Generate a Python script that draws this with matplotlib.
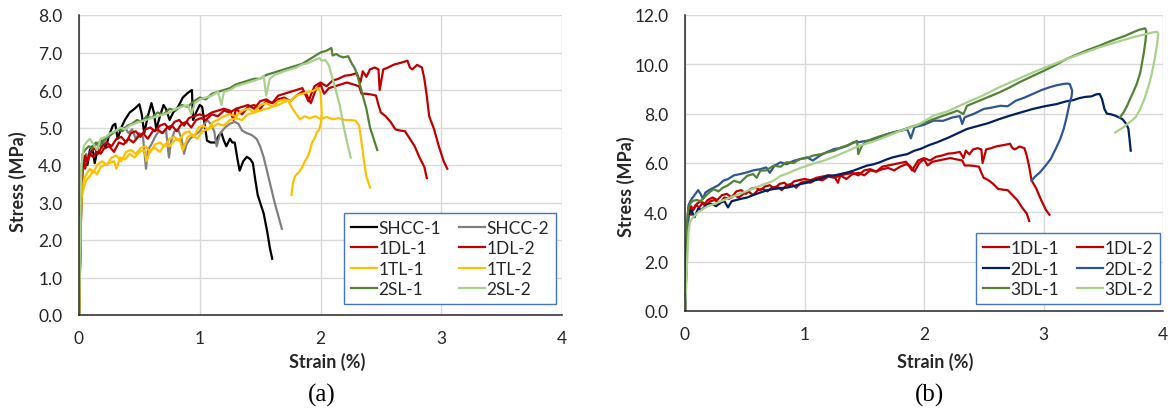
import matplotlib
matplotlib.use("Agg")
import matplotlib.pyplot as plt

# ---------------- Panel (a) data ----------------
shcc1_x = [0, 0.01, 0.02, 0.03, 0.05, 0.07, 0.09, 0.11, 0.13, 0.16, 0.19, 0.22, 0.25, 0.28, 0.30, 0.32, 0.35, 0.38,
           0.42, 0.46, 0.50, 0.52, 0.54, 0.57, 0.60, 0.62, 0.64, 0.67, 0.70, 0.72, 0.75, 0.78, 0.82, 0.86, 0.90,
           0.935, 0.945, 0.97, 1.0, 1.02, 1.04, 1.06, 1.09, 1.13, 1.16, 1.18, 1.20, 1.22, 1.25, 1.27, 1.29, 1.31,
           1.33, 1.36, 1.39, 1.42, 1.44, 1.46, 1.48, 1.50, 1.53, 1.56, 1.58, 1.60]
shcc1_y = [0, 1.5, 3.2, 3.9, 4.2, 4.0, 4.4, 4.5, 4.05, 4.5, 4.65, 4.45, 4.8, 5.05, 5.1, 4.7, 5.0, 5.2,
           5.4, 5.5, 5.62, 5.35, 4.85, 5.3, 5.65, 5.4, 4.95, 5.3, 5.6, 5.5, 5.2, 5.4, 5.55, 5.8, 5.92,
           6.0, 5.2, 5.4, 5.6, 5.55, 5.1, 4.65, 4.6, 4.6, 4.8, 4.85, 4.65, 4.5, 4.7, 4.6, 4.6, 4.2,
           3.85, 4.1, 4.22, 4.15, 4.05, 3.6, 3.2, 3.0, 2.7, 2.2, 1.8, 1.5]

shcc2_x = [0, 0.01, 0.02, 0.04, 0.06, 0.08, 0.10, 0.13, 0.16, 0.19, 0.22, 0.26, 0.30, 0.34, 0.38, 0.41, 0.44, 0.47,
           0.50, 0.53, 0.555, 0.57, 0.60, 0.63, 0.66, 0.69, 0.72, 0.745, 0.76, 0.79, 0.82, 0.85, 0.87, 0.89, 0.92,
           0.96, 1.0, 1.03, 1.06, 1.09, 1.12, 1.14, 1.17, 1.21, 1.25, 1.29, 1.32, 1.35, 1.39, 1.43, 1.47, 1.50,
           1.53, 1.56, 1.59, 1.62, 1.65, 1.68]
shcc2_y = [0, 1.8, 3.5, 4.1, 4.3, 4.15, 4.4, 4.5, 4.6, 4.45, 4.7, 4.8, 4.9, 4.95, 5.0, 4.85, 4.95, 4.7,
           4.85, 4.75, 3.9, 4.4, 4.55, 4.75, 4.9, 4.85, 4.95, 4.2, 4.6, 4.9, 4.95, 4.7, 4.3, 4.55, 4.7,
           4.8, 4.9, 5.05, 5.2, 5.1, 4.9, 4.5, 4.85, 5.0, 5.1, 5.15, 5.1, 4.92, 4.85, 4.8, 4.7, 4.5,
           4.2, 3.8, 3.4, 3.0, 2.65, 2.3]

dl1_x = [0, 0.01, 0.02, 0.03, 0.05, 0.07, 0.09, 0.12, 0.15, 0.18, 0.21, 0.25, 0.29, 0.33, 0.37, 0.41, 0.45, 0.49,
         0.53, 0.57, 0.61, 0.65, 0.69, 0.73, 0.77, 0.81, 0.85, 0.89, 0.93, 0.97, 1.01, 1.05, 1.10, 1.15, 1.20,
         1.25, 1.30, 1.35, 1.40, 1.45, 1.50, 1.55, 1.60, 1.65, 1.70, 1.75, 1.80, 1.85, 1.88, 1.92, 1.96, 2.0,
         2.03, 2.07, 2.12, 2.17, 2.22, 2.27, 2.32, 2.34, 2.38, 2.42, 2.46, 2.48, 2.50, 2.54, 2.58, 2.62, 2.66,
         2.70, 2.74, 2.78, 2.82, 2.86, 2.88]
dl1_y = [0, 1.5, 3.2, 4.2, 3.9, 4.15, 4.3, 4.2, 4.4, 4.3, 4.45, 4.5, 4.35, 4.6, 4.55, 4.7, 4.6, 4.75,
         4.85, 4.7, 4.9, 4.95, 4.85, 5.0, 5.05, 4.9, 5.1, 5.15, 5.0, 5.2, 5.25, 5.2, 5.35, 5.3, 5.45,
         5.4, 5.5, 5.35, 5.55, 5.6, 5.5, 5.7, 5.65, 5.75, 5.8, 5.7, 5.85, 5.95, 5.9, 5.65, 6.0, 6.15,
         5.9, 6.05, 6.1, 6.15, 6.2, 6.15, 6.1, 5.9, 5.9, 5.88, 5.85, 5.6, 5.4, 5.3, 5.15, 4.95, 4.92,
         4.9, 4.7, 4.5, 4.2, 3.95, 3.65]

dl2_x = [0, 0.01, 0.02, 0.03, 0.05, 0.07, 0.10, 0.13, 0.16, 0.19, 0.23, 0.27, 0.31, 0.35, 0.39, 0.43, 0.47, 0.51,
         0.55, 0.59, 0.63, 0.67, 0.71, 0.75, 0.79, 0.83, 0.87, 0.91, 0.95, 1.0, 1.05, 1.10, 1.15, 1.20, 1.25,
         1.28, 1.30, 1.35, 1.40, 1.45, 1.50, 1.55, 1.60, 1.65, 1.70, 1.75, 1.80, 1.85, 1.90, 1.95, 2.0, 2.05,
         2.10, 2.15, 2.20, 2.25, 2.30, 2.33, 2.35, 2.38, 2.41, 2.45, 2.48, 2.49, 2.52, 2.56, 2.61, 2.66, 2.72,
         2.74, 2.76, 2.80, 2.84, 2.86, 2.88, 2.90, 2.94, 2.98, 3.02, 3.05]
dl2_y = [0, 2.0, 3.6, 4.0, 4.25, 4.1, 4.35, 4.45, 4.3, 4.5, 4.6, 4.5, 4.7, 4.75, 4.6, 4.85, 4.9, 4.75,
         4.95, 5.0, 4.9, 5.05, 5.1, 4.95, 5.15, 5.2, 5.05, 5.25, 5.3, 5.35, 5.3, 5.4, 5.45, 5.5, 5.45,
         5.2, 5.5, 5.55, 5.6, 5.5, 5.7, 5.75, 5.65, 5.85, 5.9, 5.95, 6.0, 6.05, 5.7, 6.1, 6.2, 6.1,
         6.25, 6.3, 6.38, 6.4, 6.45, 6.2, 6.5, 6.35, 6.55, 6.6, 6.55, 6.0, 6.55, 6.6, 6.68, 6.72, 6.78,
         6.6, 6.55, 6.67, 6.6, 6.3, 5.85, 5.3, 4.96, 4.5, 4.1, 3.9]

tl1_x = [0, 0.01, 0.02, 0.04, 0.06, 0.09, 0.12, 0.15, 0.18, 0.21, 0.25, 0.29, 0.31, 0.34, 0.38, 0.42, 0.46, 0.50,
         0.54, 0.56, 0.59, 0.63, 0.67, 0.71, 0.75, 0.79, 0.83, 0.86, 0.90, 0.94, 0.98, 1.02, 1.06, 1.10, 1.15,
         1.20, 1.25, 1.30, 1.35, 1.40, 1.45, 1.50, 1.55, 1.60, 1.65, 1.70, 1.73, 1.76, 1.79, 1.83, 1.87, 1.91,
         1.96, 2.0, 2.05, 2.10, 2.15, 2.20, 2.25, 2.29, 2.32, 2.34, 2.36, 2.38, 2.41]
tl1_y = [0, 1.5, 3.1, 3.4, 3.6, 3.7, 3.85, 3.75, 3.95, 4.0, 4.05, 4.1, 3.9, 4.2, 4.15, 4.3, 4.2, 4.35,
         4.4, 4.1, 4.4, 4.45, 4.35, 4.55, 4.5, 4.65, 4.7, 4.4, 4.75, 4.8, 4.7, 4.9, 4.95, 5.0, 5.1,
         5.05, 5.2, 5.25, 5.2, 5.35, 5.4, 5.45, 5.5, 5.55, 5.6, 5.68, 5.72, 5.55, 5.4, 5.22, 5.3, 5.25,
         5.3, 5.23, 5.28, 5.22, 5.25, 5.2, 5.2, 5.18, 5.05, 4.6, 4.1, 3.7, 3.4]

tl2_x = [0, 0.01, 0.02, 0.04, 0.06, 0.09, 0.12, 0.15, 0.19, 0.23, 0.27, 0.31, 0.35, 0.39, 0.43, 0.47, 0.51, 0.55,
         0.59, 0.63, 0.67, 0.71, 0.75, 0.79, 0.83, 0.87, 0.91, 0.95, 0.99, 1.03, 1.07, 1.11, 1.15, 1.20, 1.25,
         1.30, 1.35, 1.40, 1.45, 1.50, 1.55, 1.60, 1.65, 1.70, 1.75, 1.80, 1.85, 1.90, 1.94, 1.98, 2.0, 2.01,
         2.005, 1.99, 1.97, 1.95, 1.93, 1.91, 1.89, 1.87, 1.85, 1.82, 1.79, 1.77, 1.76]
tl2_y = [0, 2.0, 3.3, 3.6, 3.75, 3.9, 3.8, 4.0, 4.1, 4.0, 4.2, 4.25, 4.1, 4.35, 4.4, 4.3, 4.45, 4.5,
         4.35, 4.55, 4.6, 4.5, 4.7, 4.75, 4.65, 4.85, 4.9, 4.75, 5.0, 5.05, 4.95, 5.15, 5.2, 5.3, 5.35,
         5.3, 5.45, 5.5, 5.4, 5.6, 5.65, 5.55, 5.7, 5.75, 5.7, 5.85, 5.9, 5.95, 5.98, 6.05, 5.94, 5.4,
         5.15, 4.95, 4.87, 4.7, 4.6, 4.35, 4.2, 4.1, 3.95, 3.8, 3.71, 3.5, 3.2]

sl1_x = [0, 0.01, 0.02, 0.03, 0.05, 0.08, 0.11, 0.14, 0.17, 0.20, 0.24, 0.28, 0.32, 0.36, 0.40, 0.44, 0.48, 0.52,
         0.56, 0.60, 0.65, 0.70, 0.75, 0.80, 0.85, 0.90, 0.95, 1.0, 1.05, 1.10, 1.15, 1.20, 1.25, 1.30, 1.35,
         1.40, 1.45, 1.50, 1.55, 1.60, 1.65, 1.70, 1.75, 1.80, 1.85, 1.90, 1.95, 2.0, 2.05, 2.09, 2.10, 2.13,
         2.16, 2.19, 2.23, 2.26, 2.28, 2.30, 2.33, 2.35, 2.38, 2.41, 2.44, 2.47]
sl1_y = [0, 2.2, 3.8, 4.3, 4.4, 4.5, 4.45, 4.6, 4.5, 4.65, 4.75, 4.85, 4.95, 4.9, 5.05, 5.1, 5.2, 5.15,
         5.3, 5.25, 5.4, 5.35, 5.5, 5.45, 5.6, 5.55, 5.7, 5.8, 5.75, 5.9, 5.95, 6.0, 6.05, 6.15, 6.2,
         6.25, 6.3, 6.3, 6.4, 6.45, 6.5, 6.55, 6.6, 6.65, 6.7, 6.8, 6.9, 7.0, 7.05, 7.12, 6.92, 6.96,
         6.9, 6.87, 6.9, 6.7, 6.6, 6.45, 6.1, 5.85, 5.5, 5.0, 4.7, 4.4]

sl2_x = [0, 0.01, 0.02, 0.04, 0.06, 0.09, 0.12, 0.15, 0.18, 0.22, 0.26, 0.30, 0.34, 0.38, 0.42, 0.46, 0.50, 0.55,
         0.60, 0.65, 0.70, 0.75, 0.80, 0.85, 0.90, 0.93, 0.96, 1.0, 1.05, 1.10, 1.15, 1.18, 1.20, 1.25, 1.30,
         1.35, 1.40, 1.45, 1.50, 1.53, 1.55, 1.58, 1.62, 1.66, 1.70, 1.75, 1.80, 1.85, 1.90, 1.95, 1.99, 2.01,
         2.04, 2.07, 2.10, 2.13, 2.16, 2.19, 2.22, 2.25]
sl2_y = [0, 2.5, 4.0, 4.5, 4.6, 4.7, 4.55, 4.4, 4.7, 4.75, 4.85, 4.9, 5.0, 4.95, 5.05, 5.1, 5.15, 5.2,
         5.25, 5.3, 5.35, 5.4, 5.5, 5.55, 5.6, 5.35, 5.65, 5.75, 5.8, 5.85, 5.95, 5.6, 5.95, 6.0, 6.1,
         6.15, 6.2, 6.25, 6.3, 6.38, 5.85, 6.3, 6.4, 6.45, 6.5, 6.55, 6.6, 6.68, 6.72, 6.8, 6.85, 6.78,
         6.8, 6.65, 6.3, 5.95, 5.58, 5.05, 4.6, 4.2]

# ---------------- Panel (b) data ----------------
d2l1_x = [0, 0.01, 0.02, 0.03, 0.05, 0.08, 0.11, 0.14, 0.18, 0.22, 0.26, 0.30, 0.33, 0.36, 0.39, 0.43, 0.47, 0.52,
          0.57, 0.63, 0.69, 0.75, 0.80, 0.85, 0.90, 0.96, 1.02, 1.07, 1.13, 1.19, 1.25, 1.30, 1.36, 1.41, 1.47,
          1.52, 1.58, 1.63, 1.69, 1.74, 1.80, 1.86, 1.92, 1.97, 2.04, 2.11, 2.20, 2.28, 2.36, 2.45, 2.54, 2.63,
          2.72, 2.81, 2.91, 3.01, 3.11, 3.19, 3.25, 3.30, 3.35, 3.40, 3.44, 3.47, 3.49, 3.51, 3.53, 3.56, 3.60,
          3.63, 3.66, 3.69, 3.71, 3.72, 3.73]
d2l1_y = [0, 1.5, 3.0, 3.9, 4.1, 3.8, 4.15, 4.1, 4.3, 4.35, 4.25, 4.4, 4.45, 4.2, 4.45, 4.5, 4.55, 4.6,
          4.7, 4.8, 4.9, 4.95, 4.98, 5.0, 5.05, 5.14, 5.2, 5.28, 5.35, 5.48, 5.5, 5.55, 5.62, 5.69, 5.8,
          5.89, 5.95, 6.03, 6.15, 6.23, 6.3, 6.36, 6.5, 6.57, 6.72, 6.84, 7.02, 7.2, 7.38, 7.5, 7.62, 7.78,
          7.92, 8.05, 8.19, 8.3, 8.39, 8.5, 8.55, 8.63, 8.68, 8.7, 8.78, 8.8, 8.59, 8.19, 8.0, 7.98, 7.92,
          7.85, 7.78, 7.6, 7.4, 6.97, 6.5]

d2l2_x = [0, 0.01, 0.02, 0.03, 0.05, 0.08, 0.11, 0.13, 0.15, 0.17, 0.20, 0.24, 0.28, 0.32, 0.36, 0.41, 0.46, 0.52,
          0.57, 0.63, 0.68, 0.71, 0.75, 0.80, 0.85, 0.91, 0.96, 1.02, 1.07, 1.13, 1.19, 1.25, 1.30, 1.36, 1.41,
          1.46, 1.52, 1.58, 1.63, 1.69, 1.75, 1.80, 1.86, 1.89, 1.92, 2.0, 2.08, 2.16, 2.24, 2.30, 2.32, 2.34,
          2.42, 2.50, 2.57, 2.64, 2.70, 2.77, 2.84, 2.91, 2.98, 3.05, 3.11, 3.16, 3.20, 3.22, 3.24, 3.235, 3.22,
          3.19, 3.17, 3.14, 3.10, 3.06, 3.01, 2.97, 2.93, 2.90]
d2l2_y = [0, 2.0, 3.6, 4.3, 4.5, 4.7, 4.9, 4.75, 4.55, 4.8, 4.9, 5.0, 5.1, 5.28, 5.35, 5.5, 5.55, 5.62,
          5.7, 5.75, 5.82, 5.6, 5.9, 6.03, 5.95, 6.09, 6.15, 6.23, 6.1, 6.3, 6.45, 6.57, 6.6, 6.7, 6.84,
          6.85, 6.9, 6.95, 7.05, 7.17, 7.25, 7.3, 7.37, 7.0, 7.45, 7.55, 7.72, 7.71, 7.85, 7.9, 7.58, 7.85,
          8.0, 8.19, 8.25, 8.32, 8.3, 8.53, 8.65, 8.8, 8.95, 9.07, 9.15, 9.2, 9.22, 9.2, 8.93, 8.7, 8.46,
          7.78, 7.4, 6.97, 6.55, 6.16, 5.85, 5.62, 5.45, 5.28]

d3l1_x = [0, 0.01, 0.02, 0.03, 0.05, 0.07, 0.10, 0.13, 0.16, 0.20, 0.24, 0.28, 0.32, 0.36, 0.41, 0.46, 0.52, 0.57,
          0.60, 0.63, 0.68, 0.74, 0.80, 0.85, 0.91, 0.96, 1.02, 1.07, 1.13, 1.19, 1.25, 1.30, 1.36, 1.41, 1.44,
          1.45, 1.48, 1.52, 1.58, 1.63, 1.70, 1.80, 1.90, 2.0, 2.08, 2.18, 2.28, 2.33, 2.36, 2.45, 2.54, 2.63,
          2.72, 2.81, 2.91, 3.0, 3.1, 3.19, 3.28, 3.37, 3.47, 3.54, 3.61, 3.68, 3.75, 3.80, 3.85, 3.86, 3.855,
          3.84, 3.81, 3.78, 3.75, 3.72, 3.70, 3.67, 3.64]
d3l1_y = [0, 2.0, 3.8, 4.2, 4.4, 4.47, 4.5, 4.45, 4.6, 4.8, 4.94, 4.85, 5.01, 5.1, 5.28, 5.2, 5.48, 5.55,
          5.4, 5.69, 5.7, 5.89, 5.85, 6.03, 6.0, 6.16, 6.2, 6.3, 6.35, 6.43, 6.5, 6.62, 6.72, 6.82, 6.9,
          6.36, 6.7, 6.88, 7.0, 7.08, 7.18, 7.31, 7.48, 7.62, 7.78, 7.95, 8.12, 7.98, 8.32, 8.5, 8.68, 8.86,
          9.07, 9.3, 9.53, 9.73, 9.97, 10.21, 10.4, 10.58, 10.76, 10.9, 11.03, 11.15, 11.3, 11.4, 11.46, 11.36, 11.0,
          10.48, 9.67, 9.2, 8.86, 8.55, 8.32, 8.05, 7.85]

d3l2_x = [0, 0.01, 0.02, 0.03, 0.04, 0.06, 0.08, 0.11, 0.15, 0.19, 0.24, 0.30, 0.38, 0.45, 0.52, 0.59, 0.66, 0.70,
          0.74, 0.80, 0.86, 0.91, 0.96, 1.02, 1.09, 1.16, 1.23, 1.30, 1.38, 1.46, 1.55, 1.63, 1.72, 1.80, 1.86,
          1.95, 2.08, 2.2, 2.36, 2.5, 2.63, 2.77, 2.91, 3.05, 3.19, 3.33, 3.47, 3.61, 3.75, 3.85, 3.92, 3.95,
          3.96, 3.95, 3.93, 3.905, 3.88, 3.845, 3.81, 3.77, 3.72, 3.66, 3.60]
d3l2_y = [0, 1.0, 2.24, 3.2, 3.59, 3.75, 3.86, 4.0, 4.13, 4.25, 4.33, 4.45, 4.6, 4.73, 4.87, 5.0, 5.14, 5.2,
          5.28, 5.48, 5.58, 5.69, 5.79, 5.89, 6.0, 6.09, 6.22, 6.36, 6.53, 6.7, 6.83, 6.97, 7.14, 7.3, 7.4,
          7.55, 7.92, 8.1, 8.46, 8.75, 9.07, 9.37, 9.67, 9.94, 10.21, 10.45, 10.69, 10.9, 11.1, 11.22, 11.3, 11.32,
          11.23, 10.8, 10.21, 9.6, 9.13, 8.6, 8.19, 7.85, 7.65, 7.42, 7.24]

labels_a = ["SHCC-1", "SHCC-2", "1DL-1", "1DL-2", "1TL-1", "1TL-2", "2SL-1", "2SL-2"]
labels_b = ["1DL-1", "1DL-2", "2DL-1", "2DL-2", "3DL-1", "3DL-2"]
yticks_a = [0, 1, 2, 3, 4, 5, 6, 7, 8]
yticks_b = [0, 2, 4, 6, 8, 10, 12]
xticks = [0, 1, 2, 3, 4]

C_BLACK = "#000000"
C_GRAY = "#808080"
C_RED = "#c00000"
C_YEL = "#ffc000"
C_DGRN = "#548235"
C_LGRN = "#a9d18e"
C_NAVY = "#002060"
C_BLUE = "#2f5597"

plt.rcParams['font.family'] = ['Lato', 'DejaVu Sans']
TXT = "#262626"

fig = plt.figure(figsize=(11.73, 4.14), dpi=100)
W, H = 1173.0, 414.0

def make_ax(l, r, b, t):
    ax = fig.add_axes([l / W, 1 - b / H, (r - l) / W, (b - t) / H])
    ax.grid(True, color="#d9d9d9", lw=1.0)
    ax.set_axisbelow(True)
    for s in ["top", "right"]:
        ax.spines[s].set_visible(False)
    for s in ["left", "bottom"]:
        ax.spines[s].set_color(TXT)
        ax.spines[s].set_linewidth(1.1)
        ax.spines[s].set_zorder(5)
    ax.tick_params(axis="both", length=0, labelsize=12.5, colors=TXT)
    ax.tick_params(axis="x", pad=11)
    ax.tick_params(axis="y", pad=12)
    return ax

LW = 1.6

# Panel (a)
axa = make_ax(79, 562, 316, 16)
series_a = [(shcc1_x, shcc1_y, C_BLACK), (shcc2_x, shcc2_y, C_GRAY),
            (dl1_x, dl1_y, C_RED), (dl2_x, dl2_y, C_RED),
            (tl1_x, tl1_y, C_YEL), (tl2_x, tl2_y, C_YEL),
            (sl1_x, sl1_y, C_DGRN), (sl2_x, sl2_y, C_LGRN)]
handles_a = []
for (x, y, c), lab in zip(series_a, labels_a):
    h, = axa.plot(x, y, color=c, lw=LW, label=lab)
    handles_a.append(h)
axa.set_xlim(0, 4)
axa.set_ylim(0, 8)
axa.set_xticks(xticks)
axa.set_yticks(yticks_a)
axa.set_yticklabels([f"{v:.1f}" for v in yticks_a])

# Panel (b)
axb = make_ax(685, 1163, 312, 16)
series_b = [(dl1_x, dl1_y, C_RED), (dl2_x, dl2_y, C_RED),
            (d2l1_x, d2l1_y, C_NAVY), (d2l2_x, d2l2_y, C_BLUE),
            (d3l1_x, d3l1_y, C_DGRN), (d3l2_x, d3l2_y, C_LGRN)]
handles_b = []
for (x, y, c), lab in zip(series_b, labels_b):
    h, = axb.plot(x, y, color=c, lw=LW, label=lab)
    handles_b.append(h)
axb.set_xlim(0, 4)
axb.set_ylim(0, 12)
axb.set_xticks(xticks)
axb.set_yticks(yticks_b)
axb.set_yticklabels([f"{v:.1f}" for v in yticks_b])

def reorder(hs):
    # legend filled row-wise like the reference (2 columns)
    return hs[0::2] + hs[1::2]

def add_legend(ax, hs, anchor):
    ordered = reorder(hs)
    leg = ax.legend(ordered, [h.get_label() for h in ordered], ncol=2,
                    loc="lower right", bbox_to_anchor=anchor, fontsize=12.5,
                    frameon=True, fancybox=False, framealpha=1, edgecolor="#4472c4",
                    handlelength=1.5, handletextpad=0.1, columnspacing=1.0,
                    labelspacing=0.25, borderpad=0.4, borderaxespad=0)
    leg.get_frame().set_linewidth(1.0)
    for t in leg.get_texts():
        t.set_color(TXT)
    leg.set_zorder(10)
    return leg

add_legend(axa, handles_a, ((556 - 79) / 483.0, (316 - 305) / 300.0))
add_legend(axb, handles_b, ((1160 - 685) / 478.0, (312 - 305) / 296.0))

# axis labels
fig.text(327 / W, 1 - 362 / H, "Strain (%)", ha="center", va="center", fontsize=13, fontweight="bold", color=TXT)
fig.text(935 / W, 1 - 362 / H, "Strain (%)", ha="center", va="center", fontsize=13, fontweight="bold", color=TXT)
fig.text(18 / W, 1 - 182 / H, "Stress (MPa)", ha="center", va="center", rotation=90, fontsize=13, fontweight="bold", color=TXT)
fig.text(626 / W, 1 - 187 / H, "Stress (MPa)", ha="center", va="center", rotation=90, fontsize=13, fontweight="bold", color=TXT)

# captions
fig.text(322 / W, 1 - 395 / H, "(a)", ha="center", va="center", fontsize=18, family="Liberation Serif", color="black")
fig.text(929 / W, 1 - 395 / H, "(b)", ha="center", va="center", fontsize=18, family="Liberation Serif", color="black")

fig.savefig("out.png", dpi=100, facecolor="white")
